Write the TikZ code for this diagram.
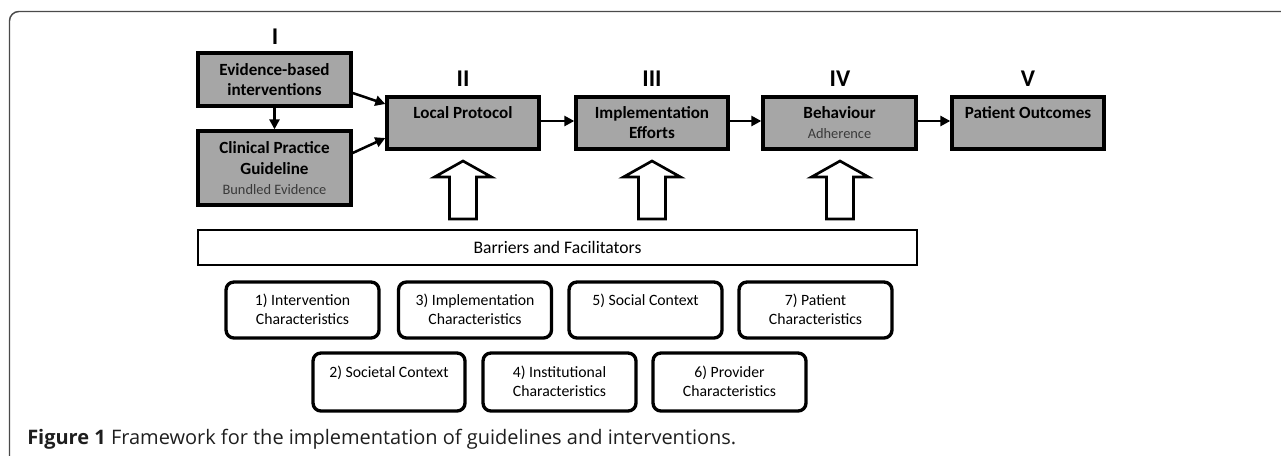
\documentclass[tikz,border=0pt]{standalone}
\usepackage{fontspec}
\setmainfont{Carlito}
\newfontfamily\capfont{Open Sans}
\usetikzlibrary{arrows.meta,calc}
\definecolor{boxgray}{HTML}{A6A6A6}
\definecolor{subgray}{HTML}{3A3A3A}
\definecolor{framegray}{HTML}{4A4A4A}
\definecolor{captext}{HTML}{1E1E1E}
\newcommand{\topbox}[4]{\parbox[c][#2][t]{#1}{\centering\rule{0pt}{#3}#4}}
\newcommand{\captiontext}{\textbf{Figure 1} Framework for the implementation of guidelines and interventions.}
\newlength{\capwd}
% set the caption at the size that makes it 531.75pt (709px) wide
\newcommand{\fitcaption}{%
  \settowidth{\capwd}{\capfont\fontsize{10}{12}\selectfont\captiontext}%
  \pgfmathsetmacro{\capsize}{10*531.75/\capwd}%
  \capfont\fontsize{\capsize}{15}\selectfont\captiontext}
\tikzset{
  gbox/.style={draw=black, line width=2.5pt, fill=boxgray, inner sep=0pt, align=center,
    font=\bfseries\fontsize{12.8}{15}\selectfont},
  rbox/.style={draw=black, line width=2.5pt, rounded corners=6pt, inner sep=0pt,
    font=\fontsize{11.8}{14.25}\selectfont},
  flow/.style={-{Triangle[length=7.5pt,width=7.5pt]}, line width=1.9pt},
  numeral/.style={font=\bfseries\fontsize{18}{18}\selectfont, inner sep=0pt},
  blockarrow/.style={draw=black, line width=2pt, fill=white, line join=miter}
}
\newcommand{\sub}[1]{{\mdseries\color{subgray}\fontsize{10.8}{15}\selectfont #1}}
\begin{document}
\begin{tikzpicture}[x=0.75pt,y=-0.75pt]
\useasboundingbox (0,0) rectangle (1281,455);
\clip (0,0) rectangle (1281,455);
% frame
\draw[framegray, line width=1.1pt, rounded corners=7pt] (9.5,480) -- (9.5,11.5) -- (1300,11.5);

% stage I
\node[numeral] (nI) at (275,37) {I};
\node[gbox, minimum width=114.75pt, minimum height=39.75pt] (eb) at (274.5,79.5)
  {Evidence-based\\interventions};
\node[gbox, minimum width=114.75pt, minimum height=55.5pt] (cp) at (274.5,168)
  {Clinical Practice\\[1pt]Guideline\\\sub{Bundled Evidence}};

% stages II-V
\node[numeral] (nII) at (463,79) {II};
\node[numeral] (nIII) at (652,79) {III};
\node[numeral] (nIV) at (840,79) {IV};
\node[numeral] (nV) at (1028,79) {V};

\node[gbox] (lp) at (463,123) {\topbox{114pt}{39pt}{16pt}{Local Protocol}};
\node[gbox] (ie) at (652,123) {\topbox{114pt}{39pt}{16pt}{Implementation\\Efforts}};
\node[gbox] (bh) at (839.5,123) {\topbox{114.75pt}{39pt}{16pt}{Behaviour\\\sub{Adherence}}};
\node[gbox] (po) at (1028,123) {\topbox{114pt}{39pt}{16pt}{Patient Outcomes}};

% connectors
\draw[flow] (eb.south) -- (cp.north);
\draw[flow] ($(eb.east)+(0,13.5)$) -- ($(lp.west)+(0,-19)$);
\draw[flow] ($(cp.east)+(0,-15)$) -- ($(lp.west)+(0,15)$);
\draw[flow] ($(lp.east)+(0,-2)$) -- ($(ie.west)+(0,-2)$);
\draw[flow] ($(ie.east)+(0,-2)$) -- ($(bh.west)+(0,-2)$);
\draw[flow] ($(bh.east)+(0,-2)$) -- ($(po.west)+(0,-2)$);

% barriers
\node[draw=black, line width=2pt, inner sep=0pt, minimum width=539.25pt, minimum height=26.25pt,
  font=\fontsize{13.2}{15}\selectfont] (bf) at (557.5,247.5) {Barriers and Facilitators};

% block arrows
\foreach \cx in {463,652,840}{
  \draw[blockarrow] (\cx-13.5,219) -- (\cx-13.5,177) -- (\cx-28.5,177) -- (\cx,161)
    -- (\cx+28.5,177) -- (\cx+13.5,177) -- (\cx+13.5,219) -- cycle;
}

% characteristic boxes
\node[rbox] (c1) at (302.5,310) {\topbox{114.75pt}{42pt}{17.3pt}{1) Intervention\\Characteristics}};
\node[rbox] (c3) at (475,310) {\topbox{114.75pt}{42pt}{17.3pt}{3) Implementation\\Characteristics}};
\node[rbox] (c5) at (645.5,310) {\topbox{114.75pt}{42pt}{17.3pt}{5) Social Context}};
\node[rbox] (c7) at (815.5,310) {\topbox{114.75pt}{42pt}{17.3pt}{7) Patient\\Characteristics}};
\node[rbox] (c2) at (389,382) {\topbox{114pt}{43.5pt}{18pt}{2) Societal Context}};
\node[rbox] (c4) at (559.5,382) {\topbox{114.75pt}{43.5pt}{18pt}{4) Institutional\\Characteristics}};
\node[rbox] (c6) at (729.5,382) {\topbox{114.75pt}{43.5pt}{18pt}{6) Provider\\Characteristics}};

% caption
\node[anchor=base west, inner sep=0pt, text=captext] (cap) at (27,444) {\fitcaption};
\end{tikzpicture}
\end{document}
